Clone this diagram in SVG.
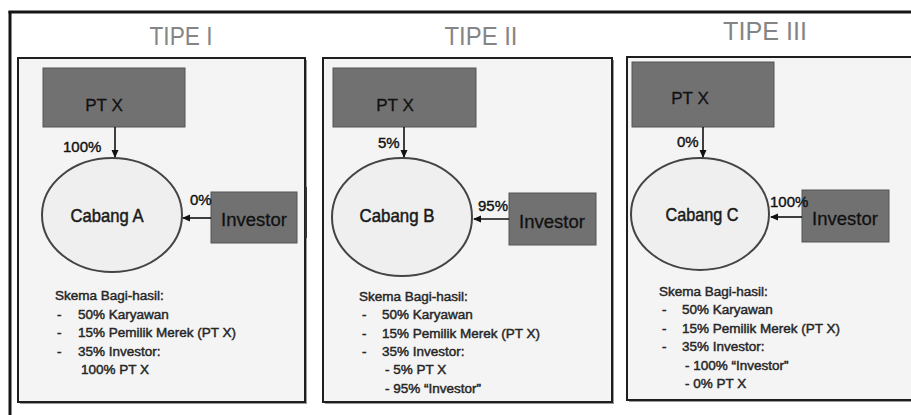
<svg xmlns="http://www.w3.org/2000/svg" width="911" height="415" viewBox="0 0 911 415">
<style>
.title{font-family:"Liberation Sans",Arial,sans-serif;font-size:26px;fill:#858585;text-anchor:middle}
.panel{fill:#f4f4f4;stroke:#1e1e1e;stroke-width:2}
.shadow{fill:#9a9a9a}
.box{fill:#717171;stroke:#555;stroke-width:1}
.boxt{font-family:"Liberation Sans",Arial,sans-serif;font-size:17px;fill:#111;stroke:#111;stroke-width:0.3;text-anchor:middle}
.invt{font-family:"Liberation Sans",Arial,sans-serif;font-size:18.5px;fill:#111;stroke:#111;stroke-width:0.3;text-anchor:middle}
.ell{fill:#efefef;stroke:#444;stroke-width:2}
.ellt{font-family:"Liberation Sans",Arial,sans-serif;font-size:19px;fill:#1a1a1a;stroke:#1a1a1a;stroke-width:0.5;text-anchor:middle}
.pct{font-family:"Liberation Sans",Arial,sans-serif;font-size:15px;fill:#111;stroke:#111;stroke-width:0.4}
.sk{font-family:"Liberation Sans",Arial,sans-serif;font-size:13.5px;fill:#262626;stroke:#262626;stroke-width:0.45}
.arr{stroke:#111;stroke-width:1.6;fill:none;marker-end:url(#ah)}
</style>
<defs>
<marker id="ah" markerWidth="8" markerHeight="8" refX="7" refY="4" orient="auto" markerUnits="userSpaceOnUse">
<path d="M0,0.5 L8,4 L0,7.5 z" fill="#111"/>
</marker>
</defs>
<rect x="0" y="0" width="911" height="415" fill="#ffffff"/>
<g id="frame">
<line x1="8.5" y1="12" x2="911" y2="12" stroke="#151515" stroke-width="3"/>
<line x1="10" y1="11" x2="10" y2="415" stroke="#151515" stroke-width="3"/>
</g>
<g id="panel1">
<rect class="shadow" x="20" y="60" width="287" height="344"/>
<rect class="panel" x="18" y="58" width="287" height="344"/>
<line x1="306" y1="187" x2="306" y2="238" stroke="#333" stroke-width="2"/>
<text class="title" x="181" y="45" textLength="63" lengthAdjust="spacingAndGlyphs">TIPE I</text>
</g>
<g id="panel2">
<rect class="shadow" x="325" y="60" width="289" height="344"/>
<rect class="panel" x="323" y="58" width="289" height="344"/>
<text class="title" x="481" y="45" textLength="73" lengthAdjust="spacingAndGlyphs">TIPE II</text>
</g>
<g id="panel3">
<rect class="shadow" x="629" y="59" width="300" height="343"/>
<rect class="panel" x="627" y="57" width="300" height="343"/>
<text class="title" x="765" y="40" textLength="84" lengthAdjust="spacingAndGlyphs">TIPE III</text>
</g>
<g id="ptx1">
<rect class="box" x="43" y="68" width="142" height="59"/>
<text class="boxt" x="104" y="111">PT X</text>
</g>
<g id="cabangA">
<ellipse class="ell" cx="112" cy="215" rx="70" ry="57"/>
<text class="ellt" x="107" y="222" textLength="73" lengthAdjust="spacingAndGlyphs">Cabang A</text>
</g>
<g id="investor1">
<rect class="box" x="211" y="192" width="86" height="51"/>
<text class="invt" x="254" y="226">Investor</text>
</g>
<g id="skema1">
<text class="sk" x="55" y="300">Skema Bagi-hasil:</text>
<text class="sk" x="57" y="318.5">-</text><text class="sk" x="78" y="318.5">50% Karyawan</text>
<text class="sk" x="57" y="337">-</text><text class="sk" x="78" y="337">15% Pemilik Merek (PT X)</text>
<text class="sk" x="57" y="355.5">-</text><text class="sk" x="78" y="355.5">35% Investor:</text>
<text class="sk" x="81" y="374">100% PT X</text>
</g>
<g id="ptx2">
<rect class="box" x="333" y="68" width="143" height="59"/>
<text class="boxt" x="395" y="111">PT X</text>
</g>
<g id="cabangB">
<ellipse class="ell" cx="402" cy="217" rx="70" ry="59"/>
<text class="ellt" x="397" y="222" textLength="75" lengthAdjust="spacingAndGlyphs">Cabang B</text>
</g>
<g id="investor2">
<rect class="box" x="509" y="193" width="87" height="52"/>
<text class="invt" x="552" y="228">Investor</text>
</g>
<g id="skema2">
<text class="sk" x="359" y="301">Skema Bagi-hasil:</text>
<text class="sk" x="362" y="319">-</text><text class="sk" x="382" y="319">50% Karyawan</text>
<text class="sk" x="362" y="337.5">-</text><text class="sk" x="382" y="337.5">15% Pemilik Merek (PT X)</text>
<text class="sk" x="362" y="356">-</text><text class="sk" x="382" y="356">35% Investor:</text>
<text class="sk" x="385" y="374">- 5% PT X</text>
<text class="sk" x="385" y="392.5">- 95% “Investor”</text>
</g>
<g id="ptx3">
<rect class="box" x="632" y="62" width="142" height="65"/>
<text class="boxt" x="690" y="104">PT X</text>
</g>
<g id="cabangC">
<ellipse class="ell" cx="700" cy="214" rx="69" ry="56"/>
<text class="ellt" x="702" y="221" textLength="73" lengthAdjust="spacingAndGlyphs">Cabang C</text>
</g>
<g id="investor3">
<rect class="box" x="802" y="190" width="87" height="52"/>
<text class="invt" x="845" y="225">Investor</text>
</g>
<g id="skema3">
<text class="sk" x="659" y="296">Skema Bagi-hasil:</text>
<text class="sk" x="662" y="314">-</text><text class="sk" x="682" y="314">50% Karyawan</text>
<text class="sk" x="662" y="332.5">-</text><text class="sk" x="682" y="332.5">15% Pemilik Merek (PT X)</text>
<text class="sk" x="662" y="351">-</text><text class="sk" x="682" y="351">35% Investor:</text>
<text class="sk" x="685" y="369.5">- 100% “Investor”</text>
<text class="sk" x="685" y="387.5">- 0% PT X</text>
</g>
<g id="connectors">
<line class="arr" x1="115" y1="127" x2="115" y2="157"/>
<line class="arr" x1="211" y1="218" x2="183" y2="218"/>
<line class="arr" x1="404" y1="127" x2="404" y2="157"/>
<line class="arr" x1="509" y1="219" x2="474" y2="219"/>
<line class="arr" x1="703" y1="127" x2="703" y2="157"/>
<line class="arr" x1="802" y1="217" x2="771" y2="217"/>
<text class="pct" x="63" y="152">100%</text>
<text class="pct" x="190" y="205">0%</text>
<text class="pct" x="378" y="148">5%</text>
<text class="pct" x="478" y="211">95%</text>
<text class="pct" x="677" y="147">0%</text>
<text class="pct" x="770" y="207">100%</text>
</g>
</svg>
